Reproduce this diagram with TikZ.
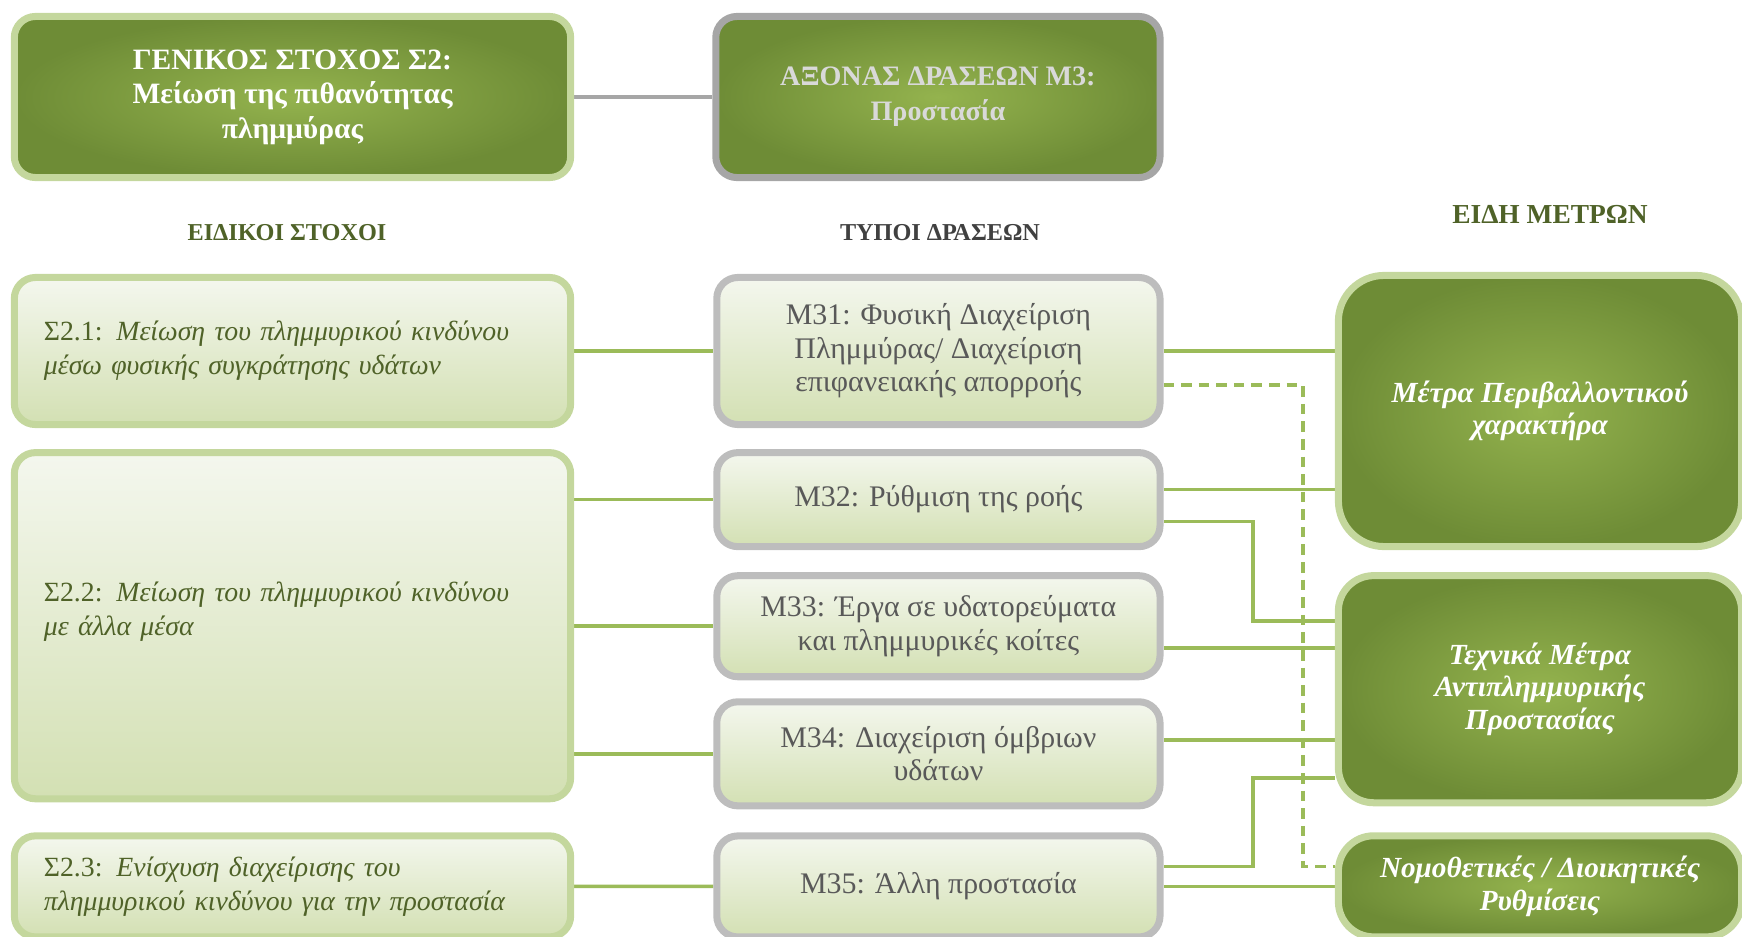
\documentclass[tikz,border=0pt]{standalone}
\usepackage{fontspec}
\setmainfont{Liberation Serif}
\usetikzlibrary{positioning,calc,backgrounds}

\definecolor{leafdark}{HTML}{6E8C36}
\definecolor{leafmid}{HTML}{94B34E}
\definecolor{leafrim}{HTML}{C4D79D}
\definecolor{paletop}{HTML}{F4F7EE}
\definecolor{palebot}{HTML}{D3E0B3}
\definecolor{rimgray}{HTML}{BDBDBD}
\definecolor{axisgray}{HTML}{A6A6A6}
\definecolor{linkgreen}{HTML}{9BBB59}
\definecolor{olivetext}{HTML}{4F6228}
\definecolor{slatetext}{HTML}{595959}

\begin{document}
\begin{tikzpicture}[
    x=0.01cm, y=-0.01cm,
    darkbox/.style={draw=leafrim, line width=2pt, rounded corners=6pt, inner color=leafmid, outer color=leafdark, text=white, align=center},
    goalbox/.style={darkbox, minimum width=5.56cm, minimum height=1.61cm, font=\bfseries\fontsize{8.4}{9.8}\selectfont},
    axisbox/.style={darkbox, draw=axisgray, minimum width=4.44cm, minimum height=1.61cm, text=black!15, font=\bfseries\fontsize{8}{10}\selectfont},
    objbox/.style={draw=leafrim, line width=2pt, rounded corners=6pt, top color=paletop, bottom color=palebot, minimum width=5.56cm, text width=4.97cm, inner xsep=0pt, align=left, text=olivetext, font=\fontsize{7.9}{9.7}\selectfont},
    typebox/.style={draw=rimgray, line width=2pt, rounded corners=6pt, top color=paletop, bottom color=palebot, minimum width=4.43cm, align=center, text=slatetext, font=\fontsize{8.5}{9.5}\selectfont},
    measurebox/.style={darkbox, minimum width=4.03cm, rounded corners=10pt, font=\bfseries\itshape\fontsize{8.3}{9.2}\selectfont},
    heading/.style={font=\bfseries\fontsize{6.9}{8}\selectfont, text=olivetext},
    link/.style={draw=linkgreen, line width=1pt},
    trunk/.style={draw=axisgray, line width=1.4pt}
]
    \useasboundingbox (0,0) rectangle (1742,936);

    % General goal and axis
    \node[goalbox] (goal) at (292.5,97) {ΓΕΝΙΚΟΣ ΣΤΟΧΟΣ Σ2:\\Μείωση της πιθανότητας\\πλημμύρας};
    \node[axisbox, right=1.38cm of goal] (axis) {ΑΞΟΝΑΣ ΔΡΑΣΕΩΝ Μ3:\\Προστασία};

    % Column headings
    \node[heading] (headobj) at (287,233) {ΕΙΔΙΚΟΙ ΣΤΟΧΟΙ};
    \node[heading, text=black!75] (headtype) at (940,233) {ΤΥΠΟΙ ΔΡΑΣΕΩΝ};
    \node[heading, font=\bfseries\fontsize{7.8}{9}\selectfont] (headmeas) at (1550,214) {ΕΙΔΗ ΜΕΤΡΩΝ};

    % Specific objectives
    \node[objbox, minimum height=1.47cm] (s21) at (292.5,351) {Σ2.1: \textit{Μείωση του πλημμυρικού κινδύνου}\\\textit{μέσω φυσικής συγκράτησης υδάτων}};
    \node[objbox, minimum height=3.46cm, text depth=19.5pt, below=0.21cm of s21] (s22) {Σ2.2: \textit{Μείωση του πλημμυρικού κινδύνου}\\\textit{με άλλα μέσα}};
    \node[objbox, minimum height=1.01cm, below=0.30cm of s22] (s23) {Σ2.3: \textit{Ενίσχυση διαχείρισης του}\\\textit{πλημμυρικού κινδύνου για την προστασία}};

    % Action types
    \node[typebox, minimum height=1.47cm, right=1.39cm of s21] (m31) {M31: Φυσική Διαχείριση\\Πλημμύρας/ Διαχείριση\\επιφανειακής απορροής};
    \node[typebox, minimum height=0.94cm, below=0.21cm of m31] (m32) {M32: Ρύθμιση της ροής};
    \node[typebox, minimum height=1.01cm, below=0.22cm of m32] (m33) {M33: Έργα σε υδατορεύματα\\και πλημμυρικές κοίτες};
    \node[typebox, minimum height=1.04cm, below=0.18cm of m33] (m34) {M34: Διαχείριση όμβριων\\υδάτων};
    \node[typebox, minimum height=1.01cm, below=0.23cm of m34] (m35) {M35: Άλλη προστασία};

    % Kinds of measures
    \node[measurebox, minimum height=2.71cm, rounded corners=13pt] (env) at (1540,411) {Μέτρα Περιβαλλοντικού\\χαρακτήρα};
    \node[measurebox, minimum height=2.27cm, below=0.22cm of env] (tech) {Τεχνικά Μέτρα\\Αντιπλημμυρικής\\Προστασίας};
    \node[measurebox, minimum height=1.01cm, below=0.26cm of tech] (legal) {Νομοθετικές / Διοικητικές\\Ρυθμίσεις};

    % Bus lines and tie points
    \coordinate (busA) at (1253,0);
    \coordinate (busB) at (1303,0);
    \coordinate (o32) at ($(m32.east)+(0,-10)$);
    \coordinate (o32b) at ($(m32.east)+(0,22)$);
    \coordinate (o33) at ($(m33.east)+(0,22)$);
    \coordinate (o34) at ($(m34.east)+(0,-14)$);
    \coordinate (o35) at ($(m35.east)+(0,-20)$);
    \coordinate (o31d) at ($(m31.east)+(0,34)$);
    \coordinate (t1) at ($(tech.west)+(0,-68)$);
    \coordinate (t4) at ($(tech.west)+(0,89)$);
    \coordinate (l1) at ($(legal.west)+(0,-20)$);

    \begin{scope}[on background layer]
        % Goal to axis
        \draw[trunk] (goal) -- (axis);

        % Objectives to action types
        \draw[link] (s21) -- (m31);
        \draw[link] (s22.east |- m32) -- (m32);
        \draw[link] (s22.east |- m33) -- (m33);
        \draw[link] (s22.east |- m34) -- (m34);
        \draw[link] (s23) -- (m35);

        % Action types to measures
        \draw[link] (m31.east) -- (m31.east -| env.west);
        \draw[link] (o32) -- (o32 -| env.west);
        \draw[link] (o32b) -| (busA |- t1) -- (t1);
        \draw[link] (o33) -- (o33 -| tech.west);
        \draw[link] (o34) -- (o34 -| tech.west);
        \draw[link] (o35) -| (busA |- t4) -- (t4);
        \draw[link] (m35.east) -- (m35.east -| legal.west);
        \draw[link, dash pattern=on 3pt off 2pt] (o31d) -| (busB |- l1) -- (l1);
    \end{scope}
\end{tikzpicture}
\end{document}
